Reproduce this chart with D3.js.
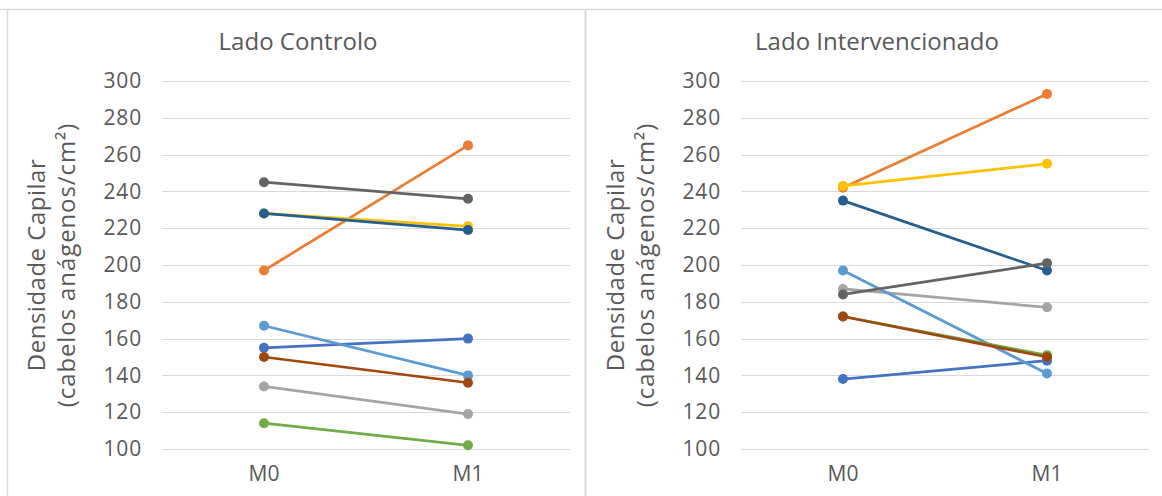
<!DOCTYPE html>
<html>
<head>
<meta charset="utf-8">
<script src="https://cdn.jsdelivr.net/npm/d3@7"></script>
<style>
  html, body { margin: 0; padding: 0; background: #fff; }
  svg { display: block; font-family: "Open Sans", sans-serif; }
</style>
</head>
<body>
<svg id="chart" width="1162" height="496"></svg>
<script>
const categories = ["M0", "M1"];
const yTicks = [100, 120, 140, 160, 180, 200, 220, 240, 260, 280, 300];
const panelTitles = ["Lado Controlo", "Lado Intervencionado"];
const yTitle1 = "Densidade Capilar";
const yTitle2 = "(cabelos anágenos/cm²)";
// Excel-like series palette (draw order)
const seriesColors = ["#4472C4", "#ED7D31", "#A5A5A5", "#FFC000", "#5B9BD5", "#70AD47", "#255E91", "#9E480E", "#636363"];
// [M0, M1] per series
const controlo = [[155, 160], [197, 265], [134, 119], [228, 221], [167, 140], [114, 102], [228, 219], [150, 136], [245, 236]];
const intervencionado = [[138, 148], [242, 293], [187, 177], [243, 255], [197, 141], [172, 151], [235, 197], [172, 150], [184, 201]];

const svg = d3.select("#chart");
const textColor = "#595959";
const gridColor = "#d9d9d9";
const panelDX = 579;

// panel borders
svg.append("line").attr("x1", 0).attr("x2", 1162).attr("y1", 9.5).attr("y2", 9.5)
  .attr("stroke", gridColor).attr("stroke-width", 1.5);
svg.append("line").attr("x1", 7.5).attr("x2", 7.5).attr("y1", 9.5).attr("y2", 496)
  .attr("stroke", gridColor).attr("stroke-width", 1.5);
svg.append("line").attr("x1", 585.5).attr("x2", 585.5).attr("y1", 9.5).attr("y2", 496)
  .attr("stroke", gridColor).attr("stroke-width", 2);

const y = d3.scaleLinear().domain([100, 300]).range([449, 81]);
const x = d3.scaleBand().domain(categories).range([162, 570]);
const xc = c => x(c) + x.bandwidth() / 2;

[controlo, intervencionado].forEach((data, pi) => {
  const g = svg.append("g").attr("transform", `translate(${pi * panelDX},0)`);

  // gridlines
  g.append("g").selectAll("line").data(yTicks).join("line")
    .attr("x1", x.range()[0]).attr("x2", x.range()[1])
    .attr("y1", d => Math.round(y(d)) + 0.5).attr("y2", d => Math.round(y(d)) + 0.5)
    .attr("stroke", gridColor).attr("stroke-width", 1.2);

  // y axis (labels only)
  const ya = g.append("g").attr("transform", "translate(162,0)")
    .call(d3.axisLeft(y).tickValues(yTicks).tickSize(0).tickPadding(20));
  ya.select(".domain").remove();
  ya.selectAll("text").attr("font-size", 21).attr("fill", textColor)
    .attr("font-family", "Open Sans, sans-serif").attr("letter-spacing", 0.8);

  // x axis (labels only)
  const xa = g.append("g").attr("transform", "translate(0,462)")
    .call(d3.axisBottom(x).tickSize(0).tickPadding(0));
  xa.select(".domain").remove();
  xa.selectAll("text").attr("font-size", 21).attr("fill", textColor)
    .attr("font-family", "Open Sans, sans-serif").attr("dy", "0.9em");

  // title
  g.append("text").attr("x", 298).attr("y", 50)
    .attr("text-anchor", "middle").attr("font-size", 24).attr("fill", textColor)
    .text(panelTitles[pi]);

  // y title
  g.append("text").attr("transform", "translate(35,265) rotate(-90)")
    .attr("text-anchor", "middle").attr("font-size", 24).attr("fill", textColor)
    .attr("letter-spacing", 0.5).attr("dominant-baseline", "central").text(yTitle1);
  g.append("text").attr("transform", "translate(65,265) rotate(-90)")
    .attr("text-anchor", "middle").attr("font-size", 24).attr("fill", textColor)
    .attr("letter-spacing", 0.9).attr("dominant-baseline", "central").text(yTitle2);

  // series
  const line = d3.line().x((d, i) => xc(categories[i])).y(d => y(d));
  data.forEach((vals, si) => {
    const s = g.append("g");
    s.append("path").attr("d", line(vals)).attr("fill", "none")
      .attr("stroke", seriesColors[si]).attr("stroke-width", 2.75).attr("stroke-linecap", "round");
    s.selectAll("circle").data(vals).join("circle")
      .attr("cx", (d, i) => xc(categories[i])).attr("cy", d => y(d)).attr("r", 5)
      .attr("fill", seriesColors[si]);
  });
});
</script>
</body>
</html>
